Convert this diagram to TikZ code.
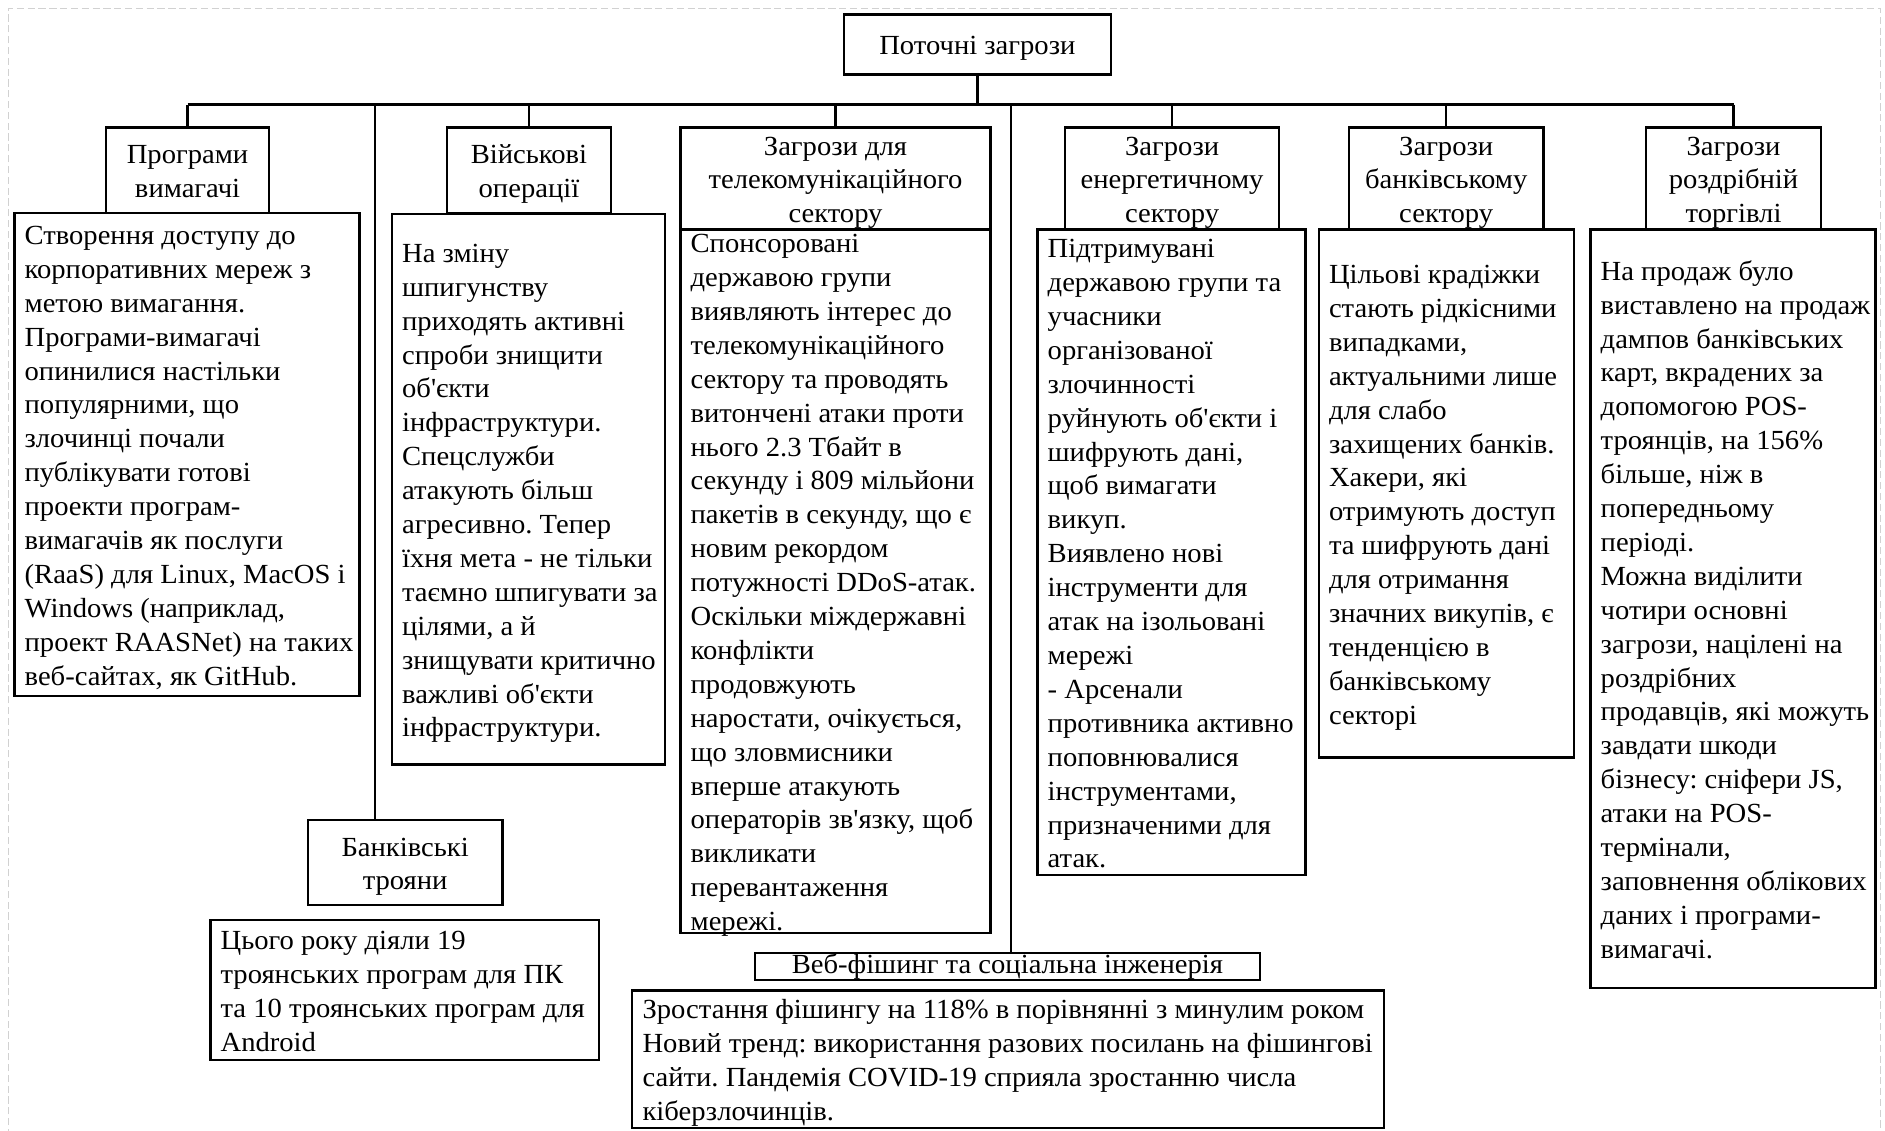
\documentclass[tikz,border=0pt]{standalone}
\usepackage{fontspec}
\setmainfont{Liberation Serif}[Ligatures=TeXOff, FakeStretch=1.035]
\frenchspacing
\newcommand\myfont{\fontsize{23pt}{28.2pt}\selectfont}
% body text: left-aligned lines of fixed box width, no automatic line breaks
\newcommand\bodytext[2]{\raisebox{0pt}[\height][\dimexpr\depth-6pt\relax]{\makebox[#1][l]{\begin{tabular}{@{}l@{}}#2\end{tabular}}}}
\newcommand\headtext[1]{\raisebox{0pt}[\height][\dimexpr\depth-6pt\relax]{\begin{tabular}{@{}c@{}}#1\end{tabular}}}
\tikzset{
  box/.style={draw, line width=1.9pt, fill=white, inner sep=0pt},
  headbox/.style={box, font=\myfont, inner ysep=-6pt},
  bodybox/.style={box, font=\myfont, inner xsep=8.5pt, inner ysep=-6pt},
  link/.style={line width=1.9pt},
  frame/.style={draw=black!18, line width=0.8pt, dash pattern=on 6pt off 3pt},
}
\begin{document}
\begin{tikzpicture}[x=1pt,y=-1pt]
\useasboundingbox (0,0) rectangle (1568,940);
\draw[frame] (7,945) -- (7,7) -- (1564,7) -- (1564,945);

% headers
\node[headbox, minimum width=222pt, minimum height=50pt] (root) at (813,37) {\headtext{Поточні загрози}};
\node[headbox, minimum width=136pt, minimum height=71pt] (progH) at (156,141.5) {\headtext{Програми\\вимагачі}};
\node[headbox, minimum width=136pt, minimum height=71pt] (milH) at (440,141.5) {\headtext{Військові\\операції}};
\node[headbox, minimum width=258pt, minimum height=85pt] (telH) at (695,148.5) {\headtext{Загрози для\\телекомунікаційного\\сектору}};
\node[headbox, minimum width=178pt, minimum height=85pt] (enH) at (975,148.5) {\headtext{Загрози\\енергетичному\\сектору}};
\node[headbox, minimum width=162pt, minimum height=85pt] (bankH) at (1203,148.5) {\headtext{Загрози\\банківському\\сектору}};
\node[headbox, minimum width=146pt, minimum height=85pt] (retH) at (1442,148.5) {\headtext{Загрози\\роздрібній\\торгівлі}};
\node[headbox, minimum width=162pt, minimum height=71pt] (trojH) at (337,717.5) {\headtext{Банківські\\трояни}};
\node[box, font=\myfont, minimum width=420pt, minimum height=22pt] (phH) at (838,804) {Веб-фішинг та соціальна інженерія};

% bodies
\node[bodybox, minimum width=287pt, minimum height=402pt] (progB) at (155.5,378) {\bodytext{270pt}{Створення доступу до\\корпоративних мереж з\\метою вимагання.\\Програми-вимагачі\\опинилися настільки\\популярними, що\\злочинці почали\\публікувати готові\\проекти програм-\\вимагачів як послуги\\(RaaS) для Linux, MacOS і\\Windows (наприклад,\\проект RAASNet) на таких\\веб-сайтах, як GitHub.}};
\node[bodybox, minimum width=227pt, minimum height=458pt] (milB) at (439.5,407) {\bodytext{210pt}{На зміну\\шпигунству\\приходять активні\\спроби знищити\\об'єкти\\інфраструктури.\\Спецслужби\\атакують більш\\агресивно. Тепер\\їхня мета - не тільки\\таємно шпигувати за\\цілями, а й\\знищувати критично\\важливі об'єкти\\інфраструктури.}};
\node[bodybox, minimum width=258pt, minimum height=585pt, inner ysep=-10pt] (telB) at (695,483.5) {\bodytext{241pt}{Спонсоровані\\державою групи\\виявляють інтерес до\\телекомунікаційного\\сектору та проводять\\витончені атаки проти\\нього 2.3 Тбайт в\\секунду і 809 мільйони\\пакетів в секунду, що є\\новим рекордом\\потужності DDoS-атак.\\Оскільки міждержавні\\конфлікти\\продовжують\\наростати, очікується,\\що зловмисники\\вперше атакують\\операторів зв'язку, щоб\\викликати\\перевантаження\\мережі.}};
\node[bodybox, minimum width=223pt, minimum height=537pt] (enB) at (974.5,459.5) {\bodytext{206pt}{Підтримувані\\державою групи та\\учасники\\організованої\\злочинності\\руйнують об'єкти і\\шифрують дані,\\щоб вимагати\\викуп.\\Виявлено нові\\інструменти для\\атак на ізольовані\\мережі\\- Арсенали\\противника активно\\поповнювалися\\інструментами,\\призначеними для\\атак.}};
\node[bodybox, minimum width=212pt, minimum height=439pt] (bankB) at (1203,410.5) {\bodytext{195pt}{Цільові крадіжки\\стають рідкісними\\випадками,\\актуальними лише\\для слабо\\захищених банків.\\Хакери, які\\отримують доступ\\та шифрують дані\\для отримання\\значних викупів, є\\тенденцією в\\банківському\\секторі}};
\node[bodybox, minimum width=237pt, minimum height=631pt] (retB) at (1441.5,506.5) {\bodytext{220pt}{На продаж було\\виставлено на продаж\\дампов банківських\\карт, вкрадених за\\допомогою POS-\\троянців, на 156\%\\більше, ніж в\\попередньому\\періоді.\\Можна виділити\\чотири основні\\загрози, націлені на\\роздрібних\\продавців, які можуть\\завдати шкоди\\бізнесу: сніфери JS,\\атаки на POS-\\термінали,\\заповнення облікових\\даних і програми-\\вимагачі.}};
\node[bodybox, minimum width=323pt, minimum height=117pt] (trojB) at (336.5,823.5) {\bodytext{306pt}{Цього року діяли 19\\троянських програм для ПК\\та 10 троянських програм для\\Android}};
\node[bodybox, minimum width=625pt, minimum height=114pt] (phB) at (838.5,881) {\bodytext{608pt}{Зростання фішингу на 118\% в порівнянні з минулим роком\\Новий тренд: використання разових посилань на фішингові\\сайти. Пандемія COVID-19 сприяла зростанню числа\\кіберзлочинців.}};

% connectors
\coordinate (bus) at (0,87);
\coordinate (trojX) at (312,87);
\coordinate (phX) at (841,87);
\draw[link] (root.south) -- (root.south |- bus);
\draw[link] (progH.north |- bus) -- (retH.north |- bus);
\foreach \n in {progH,milH,telH,enH,bankH,retH}
  \draw[link] (\n.north |- bus) -- (\n.north);
\draw[link] (trojX) -- (trojX |- trojH.north);
\draw[link] (phX) -- (phX |- phH.north);
\end{tikzpicture}
\end{document}
